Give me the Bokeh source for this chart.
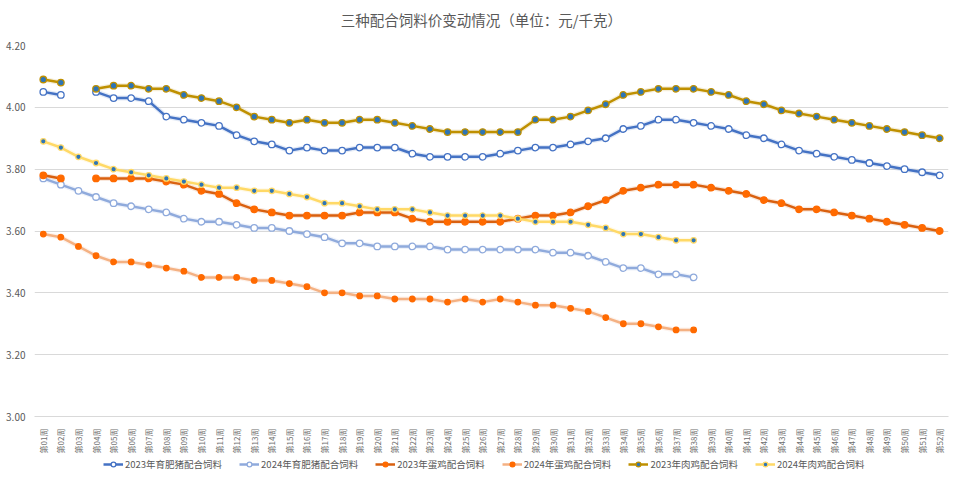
import math
from bokeh.plotting import figure
from bokeh.layouts import column
from bokeh.models import Range1d, FixedTicker, Legend, LegendItem, ColumnDataSource, Label
from bokeh.embed import file_html
from bokeh.resources import INLINE

nan = float("nan")

weeks = list(range(1, 53))
week_labels = ["第%02d周" % w for w in weeks]

pig_2023 = [4.05, 4.04, nan, 4.05, 4.03, 4.03, 4.02, 3.97, 3.96, 3.95, 3.94, 3.91, 3.89, 3.88, 3.86, 3.87, 3.86, 3.86, 3.87, 3.87,
            3.87, 3.85, 3.84, 3.84, 3.84, 3.84, 3.85, 3.86, 3.87, 3.87, 3.88, 3.89, 3.90, 3.93, 3.94, 3.96, 3.96, 3.95, 3.94, 3.93,
            3.91, 3.90, 3.88, 3.86, 3.85, 3.84, 3.83, 3.82, 3.81, 3.80, 3.79, 3.78]
pig_2024 = [3.77, 3.75, 3.73, 3.71, 3.69, 3.68, 3.67, 3.66, 3.64, 3.63, 3.63, 3.62, 3.61, 3.61, 3.60, 3.59, 3.58, 3.56, 3.56, 3.55,
            3.55, 3.55, 3.55, 3.54, 3.54, 3.54, 3.54, 3.54, 3.54, 3.53, 3.53, 3.52, 3.50, 3.48, 3.48, 3.46, 3.46, 3.45]
layer_2023 = [3.78, 3.77, nan, 3.77, 3.77, 3.77, 3.77, 3.76, 3.75, 3.73, 3.72, 3.69, 3.67, 3.66, 3.65, 3.65, 3.65, 3.65, 3.66, 3.66,
              3.66, 3.64, 3.63, 3.63, 3.63, 3.63, 3.63, 3.64, 3.65, 3.65, 3.66, 3.68, 3.70, 3.73, 3.74, 3.75, 3.75, 3.75, 3.74, 3.73,
              3.72, 3.70, 3.69, 3.67, 3.67, 3.66, 3.65, 3.64, 3.63, 3.62, 3.61, 3.60]
layer_2024 = [3.59, 3.58, 3.55, 3.52, 3.50, 3.50, 3.49, 3.48, 3.47, 3.45, 3.45, 3.45, 3.44, 3.44, 3.43, 3.42, 3.40, 3.40, 3.39, 3.39,
              3.38, 3.38, 3.38, 3.37, 3.38, 3.37, 3.38, 3.37, 3.36, 3.36, 3.35, 3.34, 3.32, 3.30, 3.30, 3.29, 3.28, 3.28]
broiler_2023 = [4.09, 4.08, nan, 4.06, 4.07, 4.07, 4.06, 4.06, 4.04, 4.03, 4.02, 4.00, 3.97, 3.96, 3.95, 3.96, 3.95, 3.95, 3.96, 3.96,
                3.95, 3.94, 3.93, 3.92, 3.92, 3.92, 3.92, 3.92, 3.96, 3.96, 3.97, 3.99, 4.01, 4.04, 4.05, 4.06, 4.06, 4.06, 4.05, 4.04,
                4.02, 4.01, 3.99, 3.98, 3.97, 3.96, 3.95, 3.94, 3.93, 3.92, 3.91, 3.90]
broiler_2024 = [3.89, 3.87, 3.84, 3.82, 3.80, 3.79, 3.78, 3.77, 3.76, 3.75, 3.74, 3.74, 3.73, 3.73, 3.72, 3.71, 3.69, 3.69, 3.68, 3.67,
                3.67, 3.67, 3.66, 3.65, 3.65, 3.65, 3.65, 3.64, 3.63, 3.63, 3.63, 3.62, 3.61, 3.59, 3.59, 3.58, 3.57, 3.57]

series_names = ["2023年育肥猪配合饲料", "2024年育肥猪配合饲料", "2023年蛋鸡配合饲料",
                "2024年蛋鸡配合饲料", "2023年肉鸡配合饲料", "2024年肉鸡配合饲料"]
y_ticks = [3.00, 3.20, 3.40, 3.60, 3.80, 4.00, 4.20]
title_text = "三种配合饲料价变动情况（单位：元/千克）"

FONT = "Noto Sans CJK SC"
GREY = "#595959"


def bare(fig):
    fig.axis.visible = False
    fig.grid.visible = False
    fig.outline_line_color = None
    fig.background_fill_color = "white"
    fig.border_fill_color = "white"


# title strip (its frame is aligned by the column with the chart frame: 34..948)
tf = figure(width=960, height=39, output_backend="svg", toolbar_location=None,
            x_range=Range1d(34, 948), y_range=Range1d(0, 39),
            min_border=0, min_border_left=0, min_border_right=0, min_border_top=0, min_border_bottom=0)
bare(tf)
tf.add_layout(Label(x=477, y=20, text=title_text, text_align="center", text_baseline="middle",
                    text_font=FONT, text_font_size="14.5px", text_color=GREY))

# main chart
p = figure(width=952, height=417, output_backend="svg", toolbar_location=None,
           x_range=Range1d(0.5, 52.5), y_range=Range1d(3.0, 4.2),
           min_border_left=34, min_border_right=4, min_border_top=6, min_border_bottom=39)
p.outline_line_color = None
p.background_fill_color = "white"
p.border_fill_color = "white"

p.xgrid.grid_line_color = None
p.ygrid.grid_line_color = "#D9D9D9"
p.ygrid.grid_line_width = 1

p.yaxis.ticker = FixedTicker(ticks=y_ticks)
p.yaxis.major_label_overrides = {t: "%.2f" % t for t in y_ticks}
p.yaxis.axis_line_color = None
p.yaxis.major_tick_line_color = None
p.yaxis.minor_tick_line_color = None
p.yaxis.major_label_text_font = FONT
p.yaxis.major_label_text_font_size = "10px"
p.yaxis.major_label_text_color = GREY
p.yaxis.major_label_standoff = 3

p.xaxis.ticker = FixedTicker(ticks=weeks)
p.xaxis.major_label_overrides = {w: l for w, l in zip(weeks, week_labels)}
p.xaxis.major_label_orientation = math.pi / 2
p.xaxis.axis_line_color = "#D9D9D9"
p.xaxis.major_tick_line_color = None
p.xaxis.minor_tick_line_color = None
p.xaxis.major_label_text_font = FONT
p.xaxis.major_label_text_font_size = "8px"
p.xaxis.major_label_text_color = "#6E6E6E"
p.xaxis.major_label_standoff = 6

# legend strip (frame also starts at x=34)
lg = figure(width=960, height=18, output_backend="svg", toolbar_location=None,
            x_range=Range1d(-10, -9), y_range=Range1d(-10, -9),
            min_border=0, min_border_left=0, min_border_right=0, min_border_top=0, min_border_bottom=0)
bare(lg)

specs = [
    (pig_2023, "#4472C4", "white", "#4472C4", 6.5),
    (pig_2024, "#8FAADC", "white", "#8FAADC", 6.5),
    (layer_2023, "#D9600F", "#FF6A00", "#FF6A00", 6.5),
    (layer_2024, "#F4B183", "#FF6A00", "#FF6A00", 5.5),
    (broiler_2023, "#BF9000", "#2E75B6", "#BF9000", 6.5),
    (broiler_2024, "#FFD966", "#2E75B6", "#FFD966", 5.5),
]

items = []
for name, (vals, lc, fc, mc, ms) in zip(series_names, specs):
    src = ColumnDataSource(dict(x=weeks[:len(vals)], y=vals))
    p.line("x", "y", source=src, line_color=lc, line_width=5, line_alpha=0.15)
    p.line("x", "y", source=src, line_color=lc, line_width=2.5)
    p.scatter("x", "y", source=src, marker="circle", size=ms, fill_color=fc,
              line_color=mc, line_width=1.3)
    r1 = lg.line("x", "y", source=src, line_color=lc, line_width=2.5)
    r2 = lg.scatter("x", "y", source=src, marker="circle", size=ms, fill_color=fc,
                    line_color=mc, line_width=1.3)
    items.append(LegendItem(label=name, renderers=[r1, r2]))

legend = Legend(items=items, orientation="horizontal", location=(69, 3),
                glyph_width=20, glyph_height=12, label_standoff=2, spacing=17,
                padding=0, margin=0, border_line_color=None, background_fill_alpha=0,
                label_text_font=FONT, label_text_font_size="9.5px", label_text_color=GREY,
                label_height=12)
lg.add_layout(legend, "center")

open("out.html", "w").write(file_html(column(tf, p, lg), INLINE))
